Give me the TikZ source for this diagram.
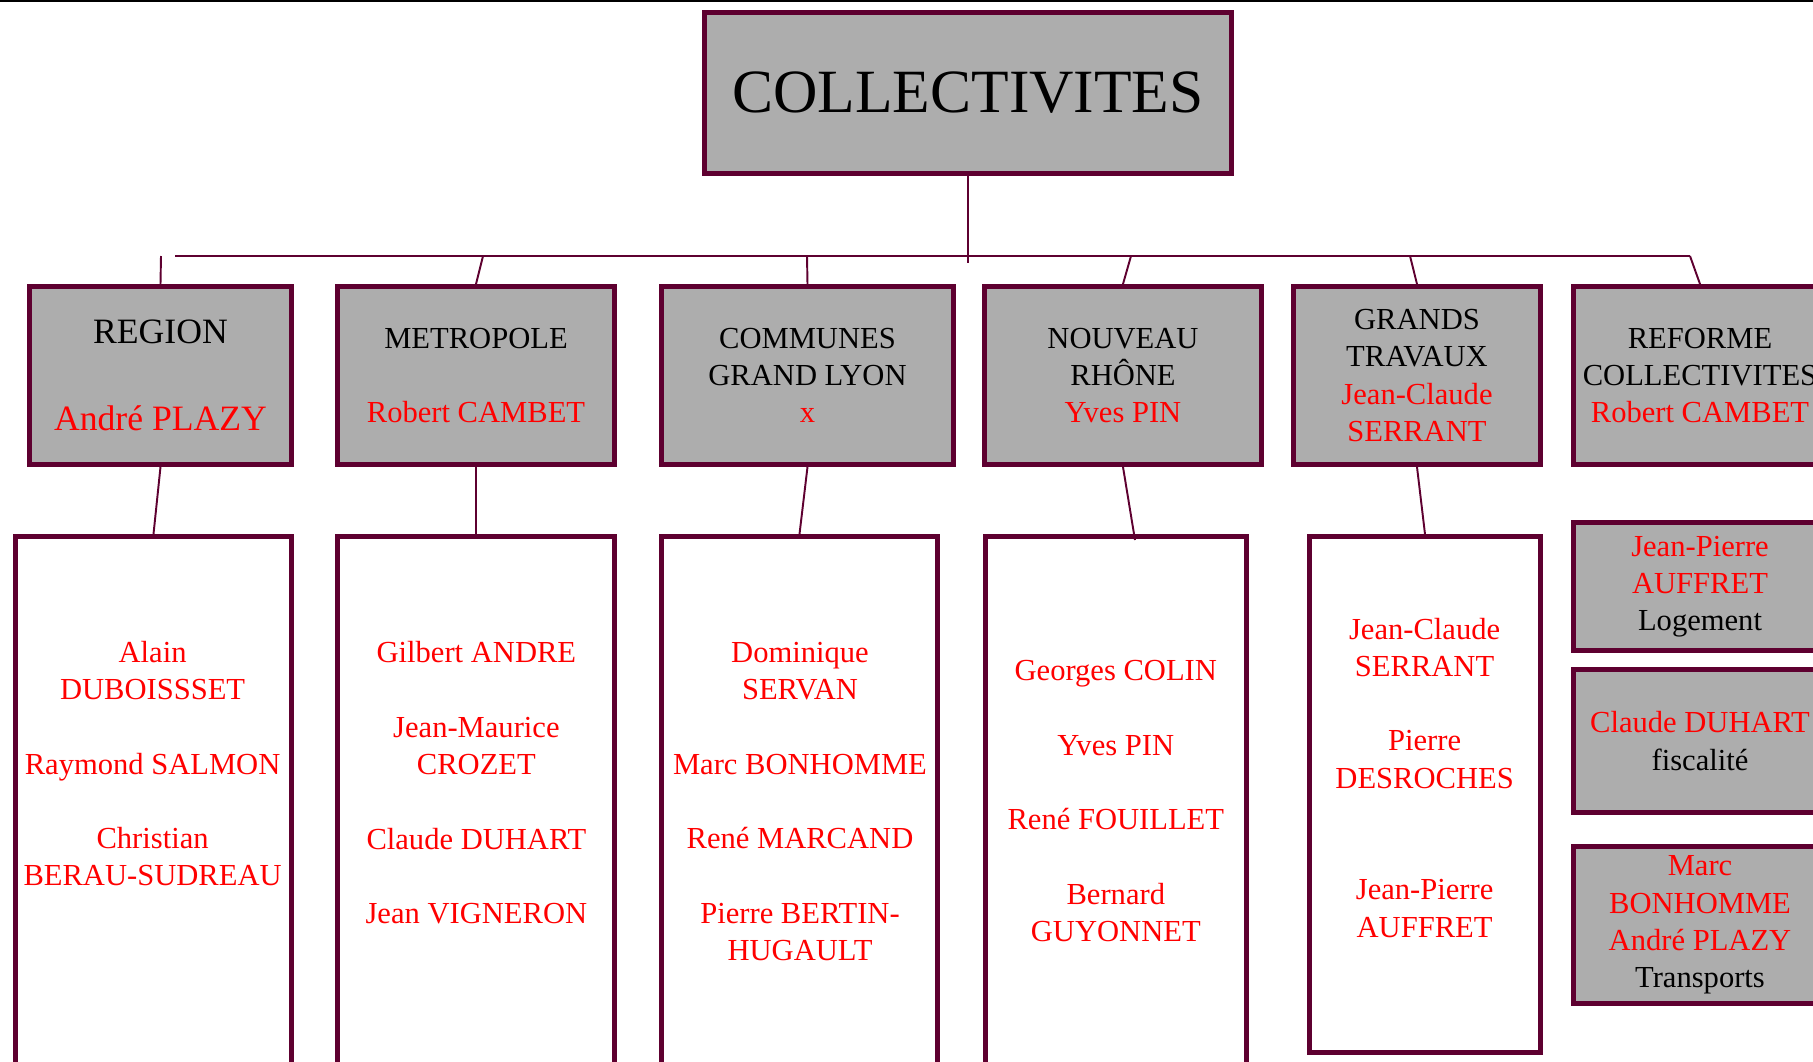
\documentclass[tikz,border=0pt]{standalone}
\usepackage{fontspec}
\setmainfont{Liberation Serif}
\usepackage{tikz}

\definecolor{frame}{RGB}{94,0,48}
\definecolor{boxgray}{RGB}{173,173,173}
\newcommand{\nm}[1]{\textcolor{red}{#1}}

\begin{document}
\begin{tikzpicture}[
    x=0.02cm, y=-0.02cm,
    line width=2.8pt,
    title/.style={draw=frame, fill=boxgray, minimum width=10.54cm, minimum height=3.22cm, inner sep=0pt, font=\fontsize{35}{42}\selectfont},
    head/.style={draw=frame, fill=boxgray, minimum height=3.56cm, align=center, inner sep=0pt, font=\fontsize{17.4}{21.2}\selectfont},
    side/.style={draw=frame, fill=boxgray, minimum width=5.06cm, align=center, inner sep=0pt, font=\fontsize{17.4}{21.2}\selectfont},
    list/.style={draw=frame, fill=white, minimum height=11.22cm, inner sep=0pt},
    names/.style={align=center, text=red, inner sep=0pt, font=\fontsize{17.4}{21.2}\selectfont},
    link/.style={draw=frame, line width=1.1pt}
]
    \useasboundingbox (0,0) rectangle (1813,1062);
    \clip (0,0) rectangle (1813,1062);
    \draw[line width=0.8pt] (0,1) -- (1813,1);

    % top
    \node[title] (coll) at (968,93) {COLLECTIVITES};

    % second row
    \node[head, minimum width=5.24cm, font=\fontsize{20.3}{24.9}\selectfont] (region) at (160.5,375.5) {REGION\\[24.9pt]\nm{André PLAZY}};
    \node[head, minimum width=5.54cm] (metro) at (476,375.5) {METROPOLE\\[21.2pt]\nm{Robert CAMBET}};
    \node[head, minimum width=5.84cm] (communes) at (807.5,375.5) {COMMUNES\\GRAND LYON\\\nm{x}};
    \node[head, minimum width=5.54cm] (nouveau) at (1123,375.5) {NOUVEAU\\RHÔNE\\\nm{Yves PIN}};
    \node[head, minimum width=4.94cm] (grands) at (1417,375.5) {GRANDS\\TRAVAUX\\\nm{Jean-Claude}\\\nm{SERRANT}};
    \node[head, minimum width=5.06cm] (reforme) at (1700,375.5) {REFORME\\COLLECTIVITES\\\nm{Robert CAMBET}};

    % lists
    \node[list, minimum width=5.52cm] (regionlist) at (153.5,817) {};
    \node[list, minimum width=5.54cm] (metrolist) at (476,817) {};
    \node[list, minimum width=5.52cm] (communeslist) at (799.5,817) {};
    \node[list, minimum width=5.22cm] (nouveaulist) at (1116,817) {};
    \node[list, minimum width=4.62cm, minimum height=10.32cm] (grandslist) at (1425,794.5) {};

    \node[names] (regionnames) at (152.6,763.7) {Alain\\DUBOISSSET\\[21.2pt]Raymond SALMON\\[21.2pt]Christian\\BERAU-SUDREAU};
    \node[names] (metronames) at (476.4,782.8) {Gilbert ANDRE\\[21.2pt]Jean-Maurice\\CROZET\\[21.2pt]Claude DUHART\\[21.2pt]Jean VIGNERON};
    \node[names] (communesnames) at (800,801.3) {Dominique\\SERVAN\\[21.2pt]Marc BONHOMME\\[21.2pt]René MARCAND\\[21.2pt]Pierre BERTIN-\\HUGAULT};
    \node[names] (nouveaunames) at (1115.8,801.3) {Georges COLIN\\[21.2pt]Yves PIN\\[21.2pt]René FOUILLET\\[21.2pt]Bernard\\GUYONNET};
    \node[names] (grandsnames) at (1424.6,777.6) {Jean-Claude\\SERRANT\\[21.2pt]Pierre\\DESROCHES\\[42.4pt]Jean-Pierre\\AUFFRET};

    % reforme column
    \node[side, minimum height=2.56cm] (logement) at (1700,586.5) {\nm{Jean-Pierre}\\\nm{AUFFRET}\\Logement};
    \node[side, minimum height=2.86cm] (fiscalite) at (1700,741) {\nm{Claude DUHART}\\fiscalité};
    \node[side, minimum height=3.14cm] (transports) at (1700,925) {\nm{Marc}\\\nm{BONHOMME}\\\nm{André PLAZY}\\Transports};

    % connectors
    \coordinate (hub) at (968,263);
    \coordinate (busl) at (175,256);
    \coordinate (busr) at (1690,256);
    \draw[link] (coll.south) -- (hub);
    \draw[link] (busl) -- (busr);
    \foreach \n/\x in {region/161, metro/483, communes/807, nouveau/1131, grands/1410, reforme/1690} {
        \coordinate (\n bus) at (\x,256);
        \draw[link] (\n bus) -- (\n.north);
    }
    \coordinate (nouveauend) at (1135,540);
    \draw[link] (region.south) -- (regionlist.north);
    \draw[link] (metro.south) -- (metrolist.north);
    \draw[link] (communes.south) -- (communeslist.north);
    \draw[link] (nouveau.south) -- (nouveauend);
    \draw[link] (grands.south) -- (grandslist.north);
\end{tikzpicture}
\end{document}
